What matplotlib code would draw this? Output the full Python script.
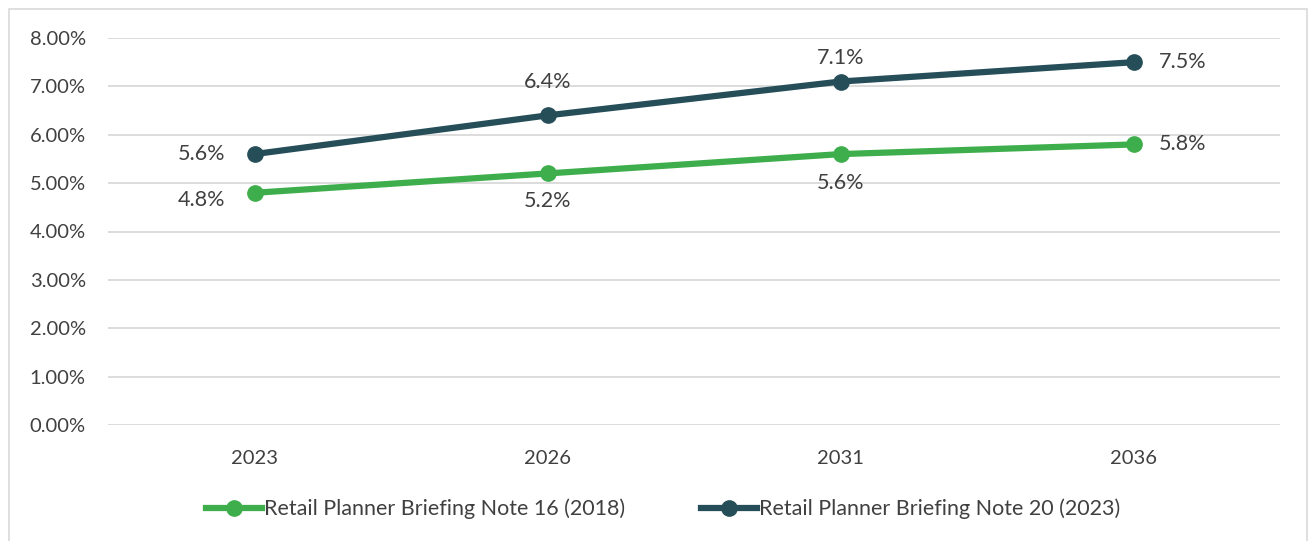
import matplotlib.pyplot as plt
from matplotlib.lines import Line2D
from matplotlib.patches import Rectangle

plt.rcParams['font.family'] = ['Lato', 'DejaVu Sans']

years = ['2023', '2026', '2031', '2036']
note16 = [4.8, 5.2, 5.6, 5.8]
note20 = [5.6, 6.4, 7.1, 7.5]
yticks = [0, 1, 2, 3, 4, 5, 6, 7, 8]

green = '#3DAE4B'
dark = '#264E59'
txt = '#404040'

fig = plt.figure(figsize=(13.14, 5.41), dpi=100)
fig.patches.append(Rectangle((9 / 1314, -0.01), 1298 / 1314, 1 - 9 / 541 + 0.01,
                             transform=fig.transFigure, fill=False,
                             edgecolor='#D9D9D9', linewidth=1.2))

ax = fig.add_axes([108 / 1314, 1 - 425 / 541, 1172 / 1314, 387 / 541])
x = list(range(len(years)))

ax.plot(x, note16, color=green, lw=4.5, marker='o', ms=11, zorder=3)
ax.plot(x, note20, color=dark, lw=4.5, marker='o', ms=11, zorder=3)

ax.set_xlim(-0.5, len(years) - 0.5)
ax.set_ylim(0, 8)
ax.set_yticks(yticks)
ax.set_yticklabels([f'{v:.2f}%' for v in yticks])
ax.set_xticks(x)
ax.set_xticklabels(years)
ax.tick_params(length=0, labelsize=14.5, colors=txt)
ax.tick_params(axis='y', pad=16)
ax.tick_params(axis='x', pad=18)
ax.grid(axis='y', color='#D9D9D9', lw=1.3)
ax.set_axisbelow(True)
for s in ax.spines.values():
    s.set_visible(False)

fs = 15.5
# label placement (offset in points) per point
off20 = [(-21, 0, 'right'), (0, 24, 'center'), (0, 17, 'center'), (18, 0, 'left')]
off16 = [(-21, -5, 'right'), (0, -20, 'center'), (0, -21, 'center'), (18, 0, 'left')]
for vals, offs in ((note20, off20), (note16, off16)):
    for i, (v, (dx, dy, ha)) in enumerate(zip(vals, offs)):
        ax.annotate(f'{v:.1f}%', (i, v), xytext=(dx, dy), textcoords='offset points',
                    ha=ha, va='center', fontsize=fs, color=txt)

handles = [Line2D([], [], color=green, lw=4.5, marker='o', ms=11),
           Line2D([], [], color=dark, lw=4.5, marker='o', ms=11)]
fig.legend(handles, ['Retail Planner Briefing Note 16 (2018)',
                     'Retail Planner Briefing Note 20 (2023)'],
           loc='center', bbox_to_anchor=(663 / 1314, 1 - 509 / 541), ncol=2,
           frameon=False, fontsize=15.5, handlelength=2.6, handletextpad=0.1,
           columnspacing=3.5, labelcolor=txt)

fig.savefig('out.png', dpi=100)
